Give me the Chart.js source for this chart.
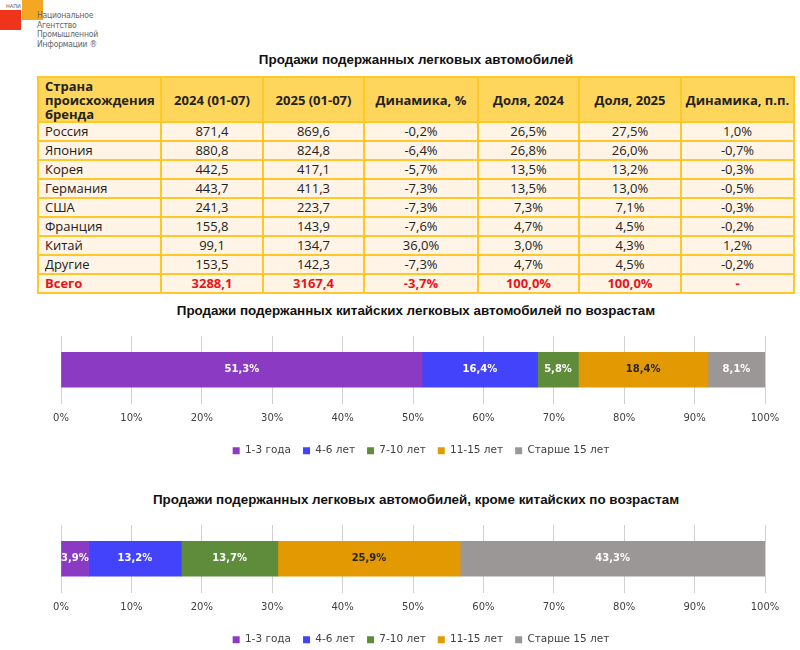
<!DOCTYPE html>
<html lang="ru">
<head>
<meta charset="utf-8">
<script src="https://cdn.jsdelivr.net/npm/chart.js@4.4.1/dist/chart.umd.min.js"></script>
<style>
  html, body { margin: 0; padding: 0; background: #fff; }
  body { width: 800px; height: 650px; position: relative; overflow: hidden; font-family: "Liberation Sans", Arial, sans-serif; }
  .logo-red { position: absolute; left: 0; top: 10px; width: 21px; height: 20px; background: #f0341c; }
  .logo-orange { position: absolute; left: 22px; top: 0; width: 21px; height: 20px; background: #f5a623; }
  .logo-napi { position: absolute; left: 6px; top: 3px; font: 5px "DejaVu Sans", sans-serif; color: #555; }
  .logo-text { position: absolute; left: 37px; top: 11px; font: 8.5px/9.7px "DejaVu Sans Condensed", "DejaVu Sans", sans-serif; color: #666; letter-spacing: -0.2px; }
  .title { position: absolute; left: 0; width: 832px; text-align: center; font: bold 13.4px "Liberation Sans", Arial, sans-serif; color: #111; }
  table { position: absolute; left: 37px; top: 76px; border-collapse: collapse; table-layout: fixed; font: 13px "Open Sans", "Liberation Sans", sans-serif; color: #222; }
  td, th { border: 2px solid #ffc829; padding: 0 6px; height: 17px; line-height: 15px; white-space: nowrap; }
  th { background: #ffd65c; font-weight: bold; height: 43px; line-height: 14px; padding: 0 3px; }
  th:first-child { text-align: left; padding-left: 6px; }
  td { background: #fff4e5; text-align: center; }
  td:first-child { text-align: left; }
  tr.total td { color: #e8141c; font-weight: bold; }
  canvas { position: absolute; }
</style>
</head>
<body>
<div class="logo-red"></div>
<div class="logo-orange"></div>
<div class="logo-napi">НАПИ</div>
<div class="logo-text">Национальное<br>Агентство<br>Промышленной<br>Информации ®</div>

<div class="title" style="top:52px">Продажи подержанных легковых автомобилей</div>
<table id="salesTable"></table>

<div class="title" style="top:303px">Продажи подержанных китайских легковых автомобилей по возрастам</div>
<canvas id="chinaChart" width="758" height="138" style="left:42px; top:328px"></canvas>

<div class="title" style="top:492px">Продажи подержанных легковых автомобилей, кроме китайских по возрастам</div>
<canvas id="otherChart" width="758" height="138" style="left:42px; top:517px"></canvas>

<script>
// table data (thousand cars, Jan-Jul)
const tableHeaders = ["Страна<br>происхождения<br>бренда", "2024 (01-07)", "2025 (01-07)", "Динамика, %", "Доля, 2024", "Доля, 2025", "Динамика, п.п."];
const colWidths = [123, 102, 101, 114, 101, 102, 113];
const countries = ["Россия", "Япония", "Корея", "Германия", "США", "Франция", "Китай", "Другие", "Всего"];
const sales2024 = ["871,4", "880,8", "442,5", "443,7", "241,3", "155,8", "99,1", "153,5", "3288,1"];
const sales2025 = ["869,6", "824,8", "417,1", "411,3", "223,7", "143,9", "134,7", "142,3", "3167,4"];
const dynamicsPct = ["-0,2%", "-6,4%", "-5,7%", "-7,3%", "-7,3%", "-7,6%", "36,0%", "-7,3%", "-3,7%"];
const share2024 = ["26,5%", "26,8%", "13,5%", "13,5%", "7,3%", "4,7%", "3,0%", "4,7%", "100,0%"];
const share2025 = ["27,5%", "26,0%", "13,2%", "13,0%", "7,1%", "4,5%", "4,3%", "4,5%", "100,0%"];
const dynamicsPp = ["1,0%", "-0,7%", "-0,3%", "-0,5%", "-0,3%", "-0,2%", "1,2%", "-0,2%", "-"];

// age structure, %
const ageGroups = ["1-3 года", "4-6 лет", "7-10 лет", "11-15 лет", "Старше 15 лет"];
const chinaShares = [51.3, 16.4, 5.8, 18.4, 8.1];
const otherShares = [3.9, 13.2, 13.7, 25.9, 43.3];
const ageColors = ["#8b3bc3", "#4343fc", "#5e8c3a", "#e39a02", "#9b9797"];
const labelColors = ["#ffffff", "#ffffff", "#ffffff", "#262626", "#ffffff"];

// build table
const table = document.getElementById("salesTable");
let html = "<colgroup>" + colWidths.map(w => `<col style="width:${w}px">`).join("") + "</colgroup>";
html += "<tr>" + tableHeaders.map(h => `<th>${h}</th>`).join("") + "</tr>";
countries.forEach((c, i) => {
  const cls = i === countries.length - 1 ? ' class="total"' : "";
  html += `<tr${cls}><td>${c}</td><td>${sales2024[i]}</td><td>${sales2025[i]}</td><td>${dynamicsPct[i]}</td>` +
          `<td>${share2024[i]}</td><td>${share2025[i]}</td><td>${dynamicsPp[i]}</td></tr>`;
});
table.style.width = colWidths.reduce((a, b) => a + b, 0) + "px";
table.innerHTML = html;

// value labels inside bar segments
const barLabels = {
  id: "barLabels",
  afterDatasetsDraw(chart) {
    const ctx = chart.ctx;
    ctx.save();
    ctx.font = 'bold 10px "DejaVu Sans"';
    ctx.textAlign = "center";
    ctx.textBaseline = "middle";
    chart.data.datasets.forEach((ds, i) => {
      chart.getDatasetMeta(i).data.forEach((bar, j) => {
        ctx.fillStyle = labelColors[i];
        const txt = ds.data[j].toFixed(1).replace(".", ",") + "%";
        ctx.fillText(txt, (bar.x + bar.base) / 2, bar.y);
      });
    });
    ctx.restore();
  }
};

function makeAgeChart(id, values) {
  const ctx = document.getElementById(id).getContext("2d");
  return new Chart(ctx, {
    type: "bar",
    data: {
      labels: [""],
      datasets: ageGroups.map((g, i) => ({
        label: g,
        data: [values[i]],
        backgroundColor: ageColors[i],
        borderWidth: 0,
        barThickness: 35
      }))
    },
    options: {
      indexAxis: "y",
      responsive: false,
      animation: false,
      layout: { padding: { left: 19, right: 19, top: 8, bottom: 0 } },
      plugins: {
        legend: {
          position: "bottom",
          labels: { boxWidth: 7, boxHeight: 7, padding: 12, color: "#404040", font: { family: "DejaVu Sans", size: 10.5 } }
        },
        tooltip: { enabled: false }
      },
      scales: {
        x: {
          stacked: true, min: 0, max: 100,
          grid: { color: "#d0d0d0", drawTicks: false },
          border: { display: false },
          ticks: { stepSize: 10, padding: 10, color: "#404040", font: { family: "DejaVu Sans", size: 10, lineHeight: 1.0 }, callback: v => v + "%" }
        },
        // blank axis on the right keeps the plot narrower than the legend box
        y: {
          stacked: true, position: "right",
          grid: { display: false }, border: { display: false }, ticks: { display: false },
          afterFit: s => { s.width = 16; }
        }
      }
    },
    plugins: [barLabels]
  });
}

makeAgeChart("chinaChart", chinaShares);
makeAgeChart("otherChart", otherShares);
</script>
</body>
</html>
